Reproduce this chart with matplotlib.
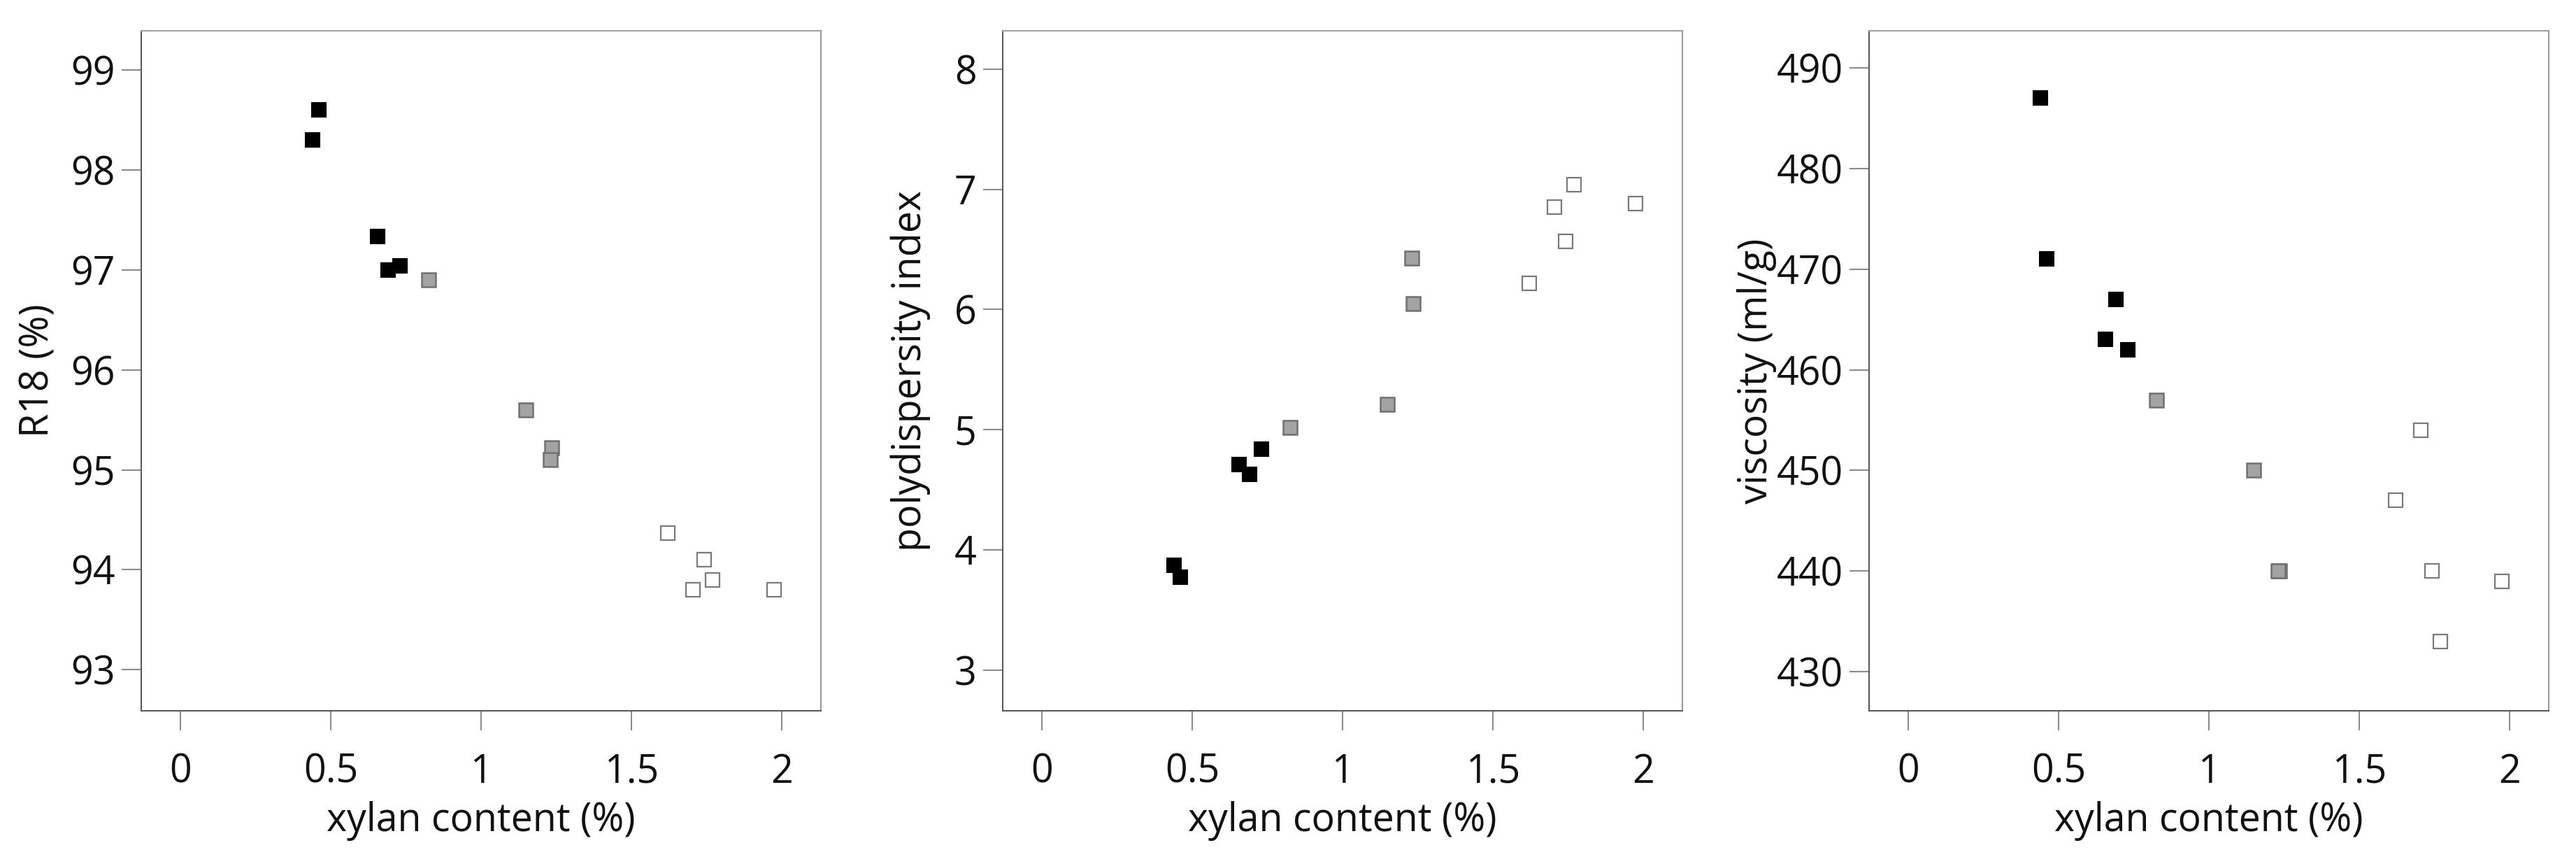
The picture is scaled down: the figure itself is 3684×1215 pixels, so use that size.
import matplotlib
matplotlib.use("Agg")
import matplotlib.pyplot as plt
from matplotlib.ticker import FuncFormatter

plt.rcParams["font.family"] = ["Open Sans", "DejaVu Sans"]

# ---------------- data ----------------
# xylan content (%) per sample group
x_black = [0.44, 0.46, 0.655, 0.69, 0.73]
x_gray = [0.825, 1.148, 1.235, 1.23]
x_white = [1.62, 1.705, 1.742, 1.77, 1.975]

# R18 (%)
r18_black = [98.30, 98.60, 97.33, 97.00, 97.04]
r18_gray = [96.90, 95.60, 95.22, 95.10]
r18_white = [94.37, 93.80, 94.10, 93.90, 93.80]

# polydispersity index
pdi_black = [3.87, 3.77, 4.71, 4.63, 4.84]
pdi_gray = [5.02, 5.21, 6.05, 6.43]
pdi_white = [6.22, 6.85, 6.57, 7.04, 6.88]

# viscosity (ml/g)
visc_black = [487, 471, 463, 467, 462]
visc_gray = [457, 450, 440, 440]
visc_white = [447, 454, 440, 433, 439]

x_ticks = [0, 0.5, 1, 1.5, 2]
xlabel = "xylan content (%)"

panels = [
    ("R18 (%)", r18_black, r18_gray, r18_white, [93, 94, 95, 96, 97, 98, 99], (92.59, 99.39), -0.122),
    ("polydispersity index", pdi_black, pdi_gray, pdi_white, [3, 4, 5, 6, 7, 8], (2.66, 8.32), -0.106),
    ("viscosity (ml/g)", visc_black, visc_gray, visc_white, [430, 440, 450, 460, 470, 480, 490], (426.1, 493.7), -0.136),
]

W, H = 3684, 1215
fig = plt.figure(figsize=(W / 100, H / 100), dpi=100)

lefts = [202, 1434, 2673]
ax_w = 972
top, bottom = 44, 1016

for left, (ylab, yb, yg, yw, yticks, ylim, ylab_x) in zip(lefts, panels):
    ax = fig.add_axes([left / W, 1 - bottom / H, ax_w / W, (bottom - top) / H])

    ms = 14.5
    ax.plot(x_black, yb, "s", ms=ms, mfc="black", mec="black", mew=1.5, ls="none")
    ax.plot(x_gray, yg, "s", ms=ms, mfc="#a3a3a3", mec="#707070", mew=1.8, ls="none")
    ax.plot(x_white, yw, "s", ms=ms, mfc="white", mec="#7a7a7a", mew=1.6, ls="none")

    ax.set_xlim(-0.13, 2.13)
    ax.set_ylim(*ylim)
    ax.set_xticks(x_ticks)
    ax.set_yticks(yticks)
    ax.xaxis.set_major_formatter(FuncFormatter(lambda v, p: f"{v:g}"))

    ax.tick_params(axis="both", direction="out", length=20, width=1.5,
                   color="#8c8c8c", labelsize=40, labelcolor="#111111")
    ax.tick_params(axis="x", pad=23)
    ax.tick_params(axis="y", pad=7)

    ax.spines["left"].set_color("#5a5a5a")
    ax.spines["bottom"].set_color("#5a5a5a")
    ax.spines["top"].set_color("#a0a0a0")
    ax.spines["right"].set_color("#9a9a9a")
    for s in ax.spines.values():
        s.set_linewidth(1.5)

    ax.set_xlabel(xlabel, fontsize=40, color="#111111")
    ax.xaxis.set_label_coords(0.5, -0.1326)
    ax.set_ylabel(ylab, fontsize=40, color="#111111")
    ax.yaxis.set_label_coords(ylab_x, 0.5)

fig.savefig("out.png", dpi=100)
